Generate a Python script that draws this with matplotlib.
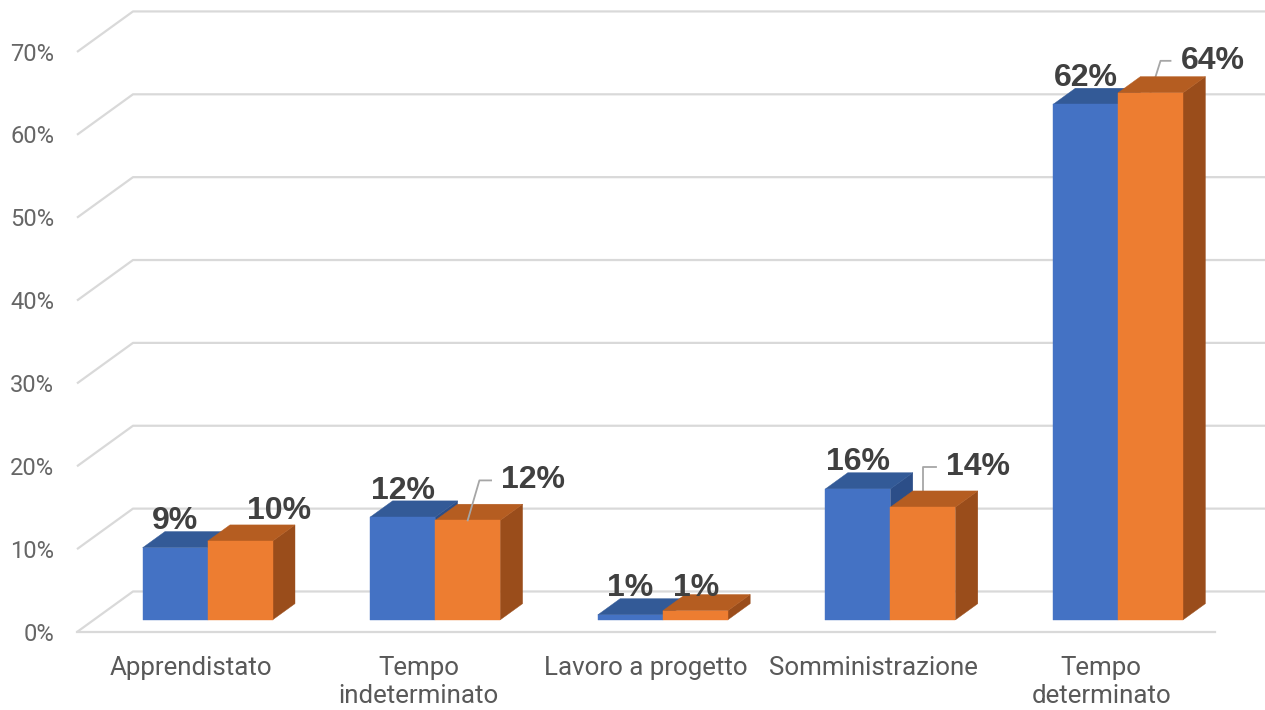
import numpy as np
import matplotlib
matplotlib.use("Agg")
import matplotlib.pyplot as plt
from matplotlib.patches import Polygon

# data
categories = ["Apprendistato", "Tempo\nindeterminato", "Lavoro a progetto",
              "Somministrazione", "Tempo\ndeterminato"]
serie_blu = [8.7, 12.4, 0.6, 15.8, 62.2]
serie_arancio = [9.5, 12.0, 1.1, 13.6, 63.6]
yticks = [0, 10, 20, 30, 40, 50, 60, 70]

# colori: fronte, top, lato
blu = ("#4472C4", "#335A97", "#2C4E88")
arancio = ("#ED7D31", "#B55D21", "#9A4D1B")
grid_col = "#D9D9D9"
txt_col = "#404040"

# geometria pseudo-3d (unità dati)
wall_dx, wall_dy = 0.246, 4.89   # profondità della parete
front_frac, depth_frac = 0.30, 0.40
bar_w = 0.2856

fig = plt.figure(figsize=(12.65, 7.10), dpi=100)
ax = fig.add_axes([0, 0, 1, 1])
ax.set_xlim(-0.3383, 5.2197)
ax.set_ylim(-9.413, 76.27)
ax.axis("off")

# griglia: diagonale + linea sulla parete di fondo
for t in yticks:
    ax.plot([0, wall_dx, 5.2197], [t, t + wall_dy, t + wall_dy],
            color=grid_col, lw=1.6, zorder=1, solid_capstyle="butt")
    ax.text(-0.101, t - 0.25, f"{t}%", ha="right", va="center",
            fontsize=17, family="Roboto", color="#666666")
ax.plot([0, len(categories)], [0, 0], color=grid_col, lw=1.6, zorder=1)

bx, by = front_frac * wall_dx, front_frac * wall_dy
ddx, ddy = depth_frac * wall_dx, depth_frac * wall_dy


def draw_bar(x0, h, cols, z):
    front = [(x0, by), (x0 + bar_w, by), (x0 + bar_w, by + h), (x0, by + h)]
    top = [(x0, by + h), (x0 + bar_w, by + h), (x0 + bar_w + ddx, by + h + ddy),
           (x0 + ddx, by + h + ddy)]
    side = [(x0 + bar_w, by), (x0 + bar_w + ddx, by + ddy),
            (x0 + bar_w + ddx, by + h + ddy), (x0 + bar_w, by + h)]
    for poly, c in ((side, cols[2]), (top, cols[1]), (front, cols[0])):
        ax.add_patch(Polygon(poly, closed=True, facecolor=c, edgecolor=c,
                             lw=0.3, zorder=z))
    return (x0 + bar_w / 2, by + h)


def fmt(v):
    return f"{int(np.floor(v + 0.5))}%"


lab_kw = dict(fontsize=23, fontweight="bold", family="Liberation Sans",
              color=txt_col, zorder=10)

# stile etichette serie arancio: (tipo, dx, dy, elbow_dx) in pixel
orange_style = [("plain", 39, 21.7, 0), ("leader", 11.7, 40, 23.4),
                ("plain", 1, 15, 0), ("leader", 0, 40, 12.7),
                ("leader", 10, 32, 20)]

for i, cat in enumerate(categories):
    c = i + 0.5 + bx
    z = 3 + i * 2
    a_b = draw_bar(c - bar_w, serie_blu[i], blu, z)
    a_o = draw_bar(c, serie_arancio[i], arancio, z + 1)

    ax.annotate(fmt(serie_blu[i]), xy=a_b, xytext=(0, 18.5),
                textcoords="offset pixels", ha="center", va="baseline", **lab_kw)

    kind, dx, dy, ex = orange_style[i]
    if kind == "plain":
        ax.annotate(fmt(serie_arancio[i]), xy=a_o, xytext=(dx, dy),
                    textcoords="offset pixels", ha="center", va="baseline",
                    **lab_kw)
    else:
        p0 = ax.transData.transform(a_o)
        pts = np.array([p0, p0 + (dx, dy), p0 + (ex, dy)])
        pts = ax.transData.inverted().transform(pts)
        ax.plot(pts[:, 0], pts[:, 1], color="#A6A6A6", lw=1.3, zorder=9)
        ax.annotate(fmt(serie_arancio[i]), xy=a_o, xytext=(ex + 10, dy),
                    textcoords="offset pixels", ha="left", va="center",
                    **lab_kw)

    ax.text(i + 0.5, -2.9, cat, ha="center", va="top", fontsize=18.6,
            family="Roboto", color="#595959", linespacing=1.2,
            multialignment="center")

fig.savefig("out.png", dpi=100)
